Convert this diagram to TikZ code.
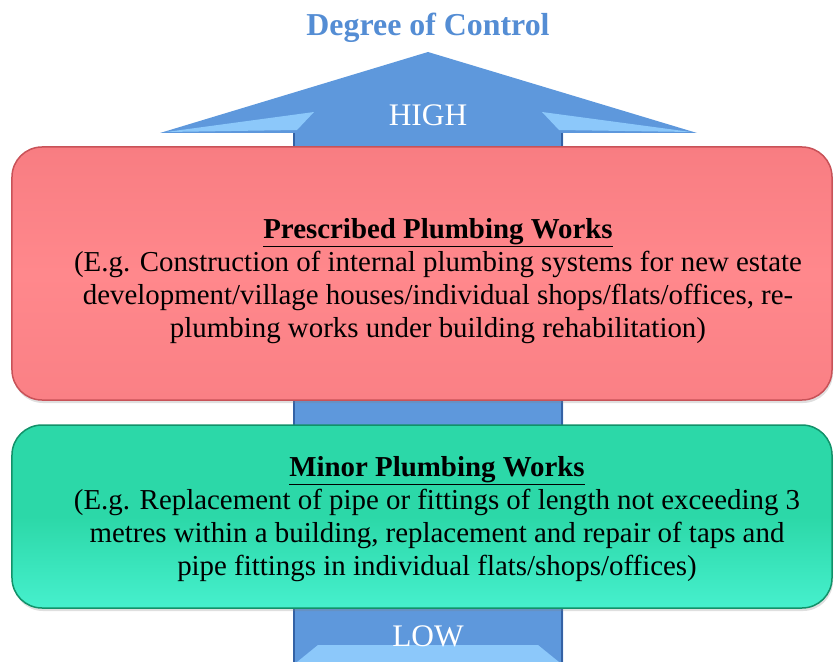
\documentclass[tikz,border=0pt]{standalone}
\usepackage{fontspec}
\setmainfont{Liberation Serif}
\usetikzlibrary{shadows}
\definecolor{titleblue}{RGB}{84,141,212}
\definecolor{arrowblue}{RGB}{94,152,220}
\definecolor{arrowdark}{RGB}{52,98,165}
\definecolor{arrowlight}{RGB}{140,200,250}
\definecolor{redfill}{RGB}{255,136,140}
\definecolor{redtop}{RGB}{248,125,130}
\definecolor{redlow}{RGB}{250,128,133}
\definecolor{reddraw}{RGB}{200,82,88}
\definecolor{greenfill}{RGB}{44,216,168}
\definecolor{greenlow}{RGB}{70,240,205}
\definecolor{greendraw}{RGB}{18,145,105}
\tikzstyle{plate} = [rectangle, rounded corners=30bp, minimum width=820bp, line width=1.5bp, drop shadow={opacity=0.25,shadow xshift=1bp,shadow yshift=-3bp}]
\tikzstyle{words} = [align=center, font=\fontsize{29}{33}\selectfont, inner sep=0pt]
\tikzstyle{level} = [text=white, font=\fontsize{31.5}{31.5}\selectfont, inner sep=0pt]

\begin{document}
\begin{tikzpicture}[x=1bp,y=-1bp]
    \useasboundingbox (0,0) rectangle (835,662);
    % the big arrow
    \fill[arrowblue] (293,662) -- (293,133) -- (160,133) -- (428,52) -- (697,133) -- (563,133) -- (563,662) -- cycle;
    \fill[arrowlight] (166,132) -- (314,112) -- (297,130) -- cycle;
    \fill[arrowlight] (691,132) -- (542,112) -- (559,130) -- cycle;
    \fill[arrowlight] (297,662) -- (318,645) -- (538,645) -- (559,662) -- cycle;
    \draw[arrowdark, line width=2bp] (294,133) -- (294,662);
    \draw[arrowdark, line width=2.5bp] (562,133) -- (562,662);
    \node[font=\fontsize{32}{32}\selectfont\bfseries, text=titleblue] (T) at (428,28) {Degree of Control};
    \node[level] (H) at (428,115) {HIGH};
    \node[level] (L) at (428,636) {LOW};
    % the two boxes
    \node[plate, draw=reddraw, top color=redtop, bottom color=redlow, middle color=redfill, minimum height=253bp] (P) at (422,273.5) {};
    \node[plate, draw=greendraw, top color=greenfill, bottom color=greenlow, middle color=greenfill, minimum height=183bp] (M) at (422,516.5) {};
    \node[words] (Pt) at (438,281) {\underline{\textbf{Prescribed Plumbing Works}}\\(E.g. Construction of internal plumbing systems for new estate\\development/village houses/individual shops/flats/offices, re-\\plumbing works under building rehabilitation)};
    \node[words] (Mt) at (437,519) {\underline{\textbf{Minor Plumbing Works}}\\(E.g. Replacement of pipe or fittings of length not exceeding 3\\metres within a building, replacement and repair of taps and\\pipe fittings in individual flats/shops/offices)};
\end{tikzpicture}
\end{document}
